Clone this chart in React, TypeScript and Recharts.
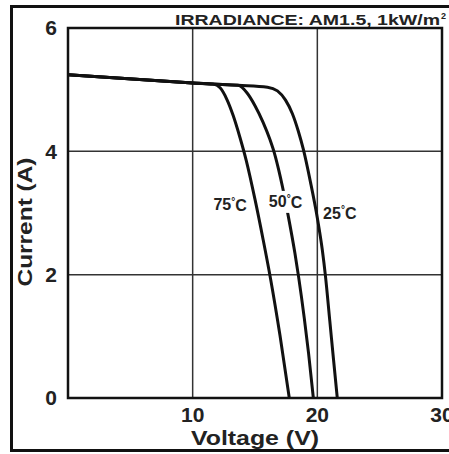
import React from 'react';
import { LineChart, Line, XAxis, YAxis, CartesianGrid, ReferenceArea, ReferenceDot } from 'recharts';

const voltageTicks = [0, 10, 20, 30];
const currentTicks = [0, 2, 4, 6];

const curve25C = [
  { v: 0, i: 5.24 }, { v: 10, i: 5.11 }, { v: 13.65, i: 5.07 }, { v: 16.0, i: 5.04 }, { v: 16.8, i: 4.98 },
  { v: 17.45, i: 4.83 }, { v: 18.0, i: 4.61 }, { v: 18.47, i: 4.33 }, { v: 18.88, i: 4.03 }, { v: 19.45, i: 3.5 },
  { v: 20.0, i: 2.92 }, { v: 20.4, i: 2.4 }, { v: 20.65, i: 1.98 }, { v: 21.0, i: 1.25 }, { v: 21.3, i: 0.62 }, { v: 21.6, i: 0 },
];
const curve50C = [
  { v: 0, i: 5.24 }, { v: 10, i: 5.11 }, { v: 11.65, i: 5.09 }, { v: 13.65, i: 5.07 }, { v: 14.35, i: 4.95 },
  { v: 15.0, i: 4.74 }, { v: 15.65, i: 4.47 }, { v: 16.2, i: 4.19 }, { v: 16.6, i: 3.94 }, { v: 16.9, i: 3.7 },
  { v: 17.2, i: 3.43 }, { v: 17.65, i: 2.97 }, { v: 18.2, i: 2.35 }, { v: 18.5, i: 1.96 }, { v: 18.95, i: 1.3 },
  { v: 19.3, i: 0.72 }, { v: 19.68, i: 0 },
];
const curve75C = [
  { v: 0, i: 5.24 }, { v: 10, i: 5.11 }, { v: 11.65, i: 5.09 }, { v: 12.2, i: 5.03 }, { v: 12.75, i: 4.84 },
  { v: 13.25, i: 4.58 }, { v: 13.8, i: 4.22 }, { v: 14.3, i: 3.85 }, { v: 15.0, i: 3.22 }, { v: 15.65, i: 2.57 },
  { v: 16.25, i: 1.93 }, { v: 17.0, i: 1.02 }, { v: 17.75, i: 0 },
];

const tempLabels = [
  { v: 13.0, i: 3.13, t: '75' },
  { v: 17.45, i: 3.18, t: '50' },
  { v: 21.8, i: 3.0, t: '25' },
];

const titleText = 'IRRADIANCE: AM1.5, 1kW/m';
const xTitle = 'Voltage (V)';
const yTitle = 'Current (A)';

const FONT = '"Liberation Sans", Arial, sans-serif';

const TempShape = (t: string) => (p: any) => (
  <g>
    <rect x={p.cx - 18} y={p.cy - 11} width={36} height={22} fill="#fff" />
    <text x={p.cx} y={p.cy} textAnchor="middle" dominantBaseline="central" fontFamily={FONT} fontWeight="bold" fontSize={16} fill="#222">
      {t}
      <tspan fontSize={10} dy={-4}>°</tspan>
      <tspan dy={4}>C</tspan>
    </text>
  </g>
);

const XTitle = (props: any) => {
  const vb = props.viewBox || {};
  return (
    <text x={vb.x + vb.width / 2} y={445} textAnchor="middle" fontFamily={FONT} fontWeight="bold" fontSize={21} fill="#222"
      textLength={128} lengthAdjust="spacingAndGlyphs">{xTitle}</text>
  );
};

const YTitle = (props: any) => {
  const vb = props.viewBox || {};
  const cy = vb.y + vb.height / 2 + 9;
  return (
    <text x={32} y={cy} transform={`rotate(-90 32 ${cy})`} textAnchor="middle" fontFamily={FONT} fontWeight="bold" fontSize={21} fill="#222"
      textLength={129} lengthAdjust="spacingAndGlyphs">{yTitle}</text>
  );
};

export default function App() {
  return (
    <div style={{ position: 'absolute', left: 0, top: 0, width: 449, height: 454, background: '#fff', overflow: 'hidden' }}>
      <div style={{ position: 'absolute', left: 10, top: 5, width: 460, height: 447, border: '3px solid #111', boxSizing: 'border-box' }} />
      <svg style={{ position: 'absolute', left: 0, top: 0 }} width={449} height={30}>
        <text x={175} y={25} fontFamily={FONT} fontWeight="bold" fontSize={15} fill="#222" textLength={265} lengthAdjust="spacingAndGlyphs">{titleText}</text>
        <text x={441} y={19} fontFamily={FONT} fontWeight="bold" fontSize={9} fill="#222">2</text>
      </svg>
      <div style={{ position: 'absolute', left: 0, top: 0 }}>
        <LineChart width={449} height={454} margin={{ top: 28, right: 7, bottom: 0, left: 0 }}>
          <CartesianGrid stroke="#333" strokeWidth={1.5} />
          <XAxis dataKey="v" type="number" domain={[0, 30]} ticks={voltageTicks} height={56}
            axisLine={false} tickLine={false} tickSize={0} tickMargin={9} interval={0}
            tickFormatter={(v: number) => (v === 0 ? '' : String(v))}
            tick={{ fontFamily: FONT, fontWeight: 'bold', fontSize: 21, fill: '#222' }}
            label={<XTitle />} allowDataOverflow />
          <YAxis type="number" domain={[0, 6]} ticks={currentTicks} width={68}
            axisLine={false} tickLine={false} tickSize={0} tickMargin={11} interval={0}
            tick={{ fontFamily: FONT, fontWeight: 'bold', fontSize: 21, fill: '#222' }}
            label={<YTitle />} allowDataOverflow />
          <ReferenceArea x1={0} x2={30} y1={0} y2={6} fill="none" fillOpacity={0} stroke="#111" strokeWidth={2.5} ifOverflow="visible" />
          <Line data={curve25C} dataKey="i" type="monotone" stroke="#111" strokeWidth={3} dot={false} isAnimationActive={false} />
          <Line data={curve50C} dataKey="i" type="monotone" stroke="#111" strokeWidth={3} dot={false} isAnimationActive={false} />
          <Line data={curve75C} dataKey="i" type="monotone" stroke="#111" strokeWidth={3} dot={false} isAnimationActive={false} />
          {tempLabels.map((l) => (
            <ReferenceDot key={l.t} x={l.v} y={l.i} r={0} ifOverflow="visible" shape={TempShape(l.t)} />
          ))}
        </LineChart>
      </div>
    </div>
  );
}
